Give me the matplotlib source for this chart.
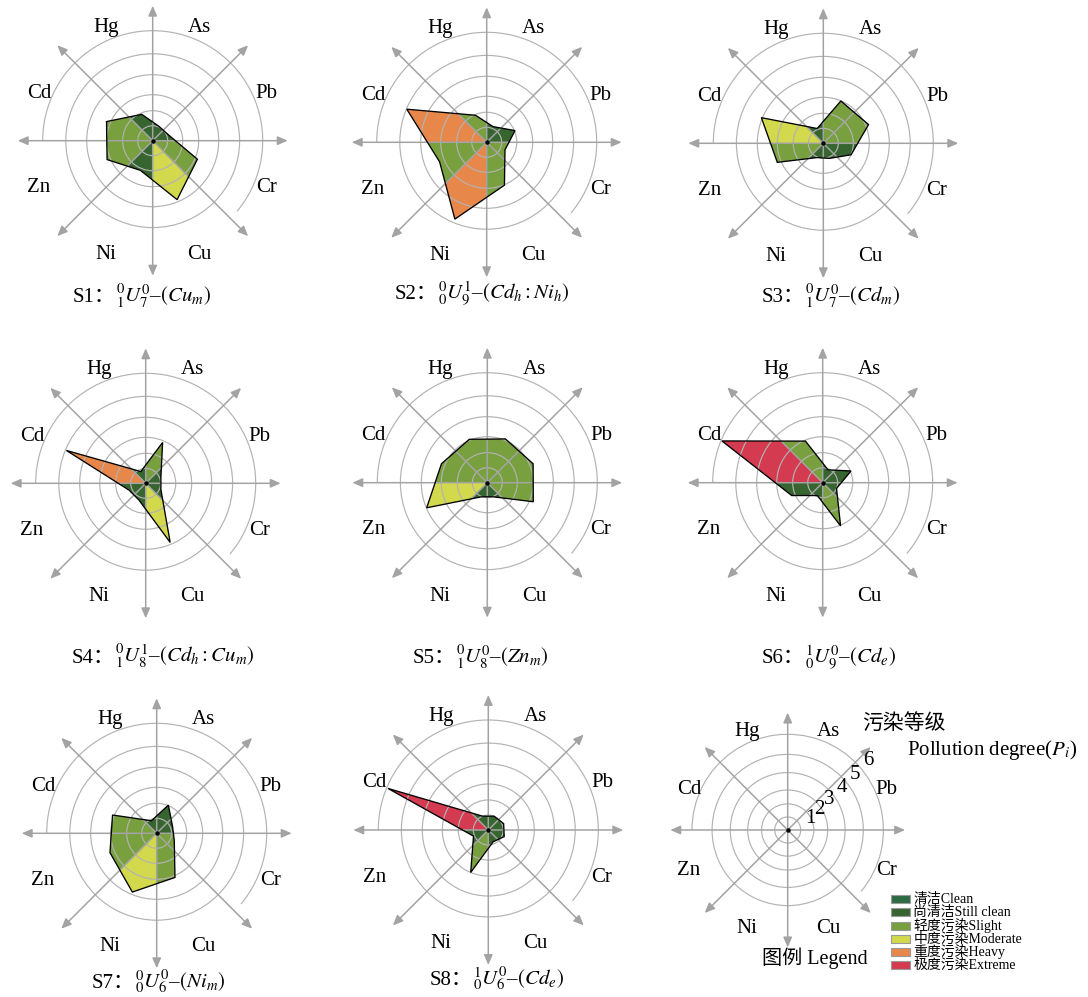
import numpy as np
import matplotlib.pyplot as plt
from matplotlib.patches import Circle, Arc, Wedge, Polygon, Rectangle, FancyArrowPatch

W, H = 1088, 997
plt.rcParams['mathtext.fontset'] = 'stix'
serif = ['Liberation Serif', 'Noto Sans CJK SC']

# elements, counter-clockwise from 22.5 deg
elements = ['Pb', 'As', 'Hg', 'Cd', 'Zn', 'Ni', 'Cu', 'Cr']

grade_names = ['清洁Clean', '尚清洁Still clean', '轻度污染Slight',
               '中度污染Moderate', '重度污染Heavy', '极度污染Extreme']
grade_colors = ['#2e6b45', '#37652f', '#78a03e', '#d2d94c', '#e8874a', '#d43a50']

# pollution degree (ring units 0-6) and grade (1-6) per element
s1_val = [1.10, 1.05, 1.90, 3.20, 3.17, 2.13, 3.89, 3.12]
s1_grd = [2, 2, 2, 3, 3, 2, 4, 3]
s2_val = [2.04, 1.13, 1.95, 4.98, 3.25, 4.82, 3.02, 1.32]
s2_grd = [2, 2, 3, 5, 3, 5, 3, 3]
s3_val = [3.15, 2.99, 1.07, 4.05, 3.19, 1.03, 1.09, 2.00]
s3_grd = [3, 3, 2, 4, 3, 2, 2, 2]
s4_val = [1.10, 2.89, 0.85, 4.95, 1.20, 1.20, 3.90, 1.10]
s4_grd = [2, 3, 2, 5, 2, 2, 4, 2]
s5_val = [3.18, 3.07, 3.05, 3.18, 3.98, 1.02, 1.02, 3.19]
s5_grd = [3, 3, 3, 3, 4, 2, 2, 3]
s6_val = [2.04, 0.93, 2.94, 5.96, 2.22, 0.93, 3.04, 1.00]
s6_grd = [2, 2, 3, 6, 2, 2, 3, 2]
s7_val = [1.15, 2.03, 0.91, 3.09, 3.23, 3.88, 3.09, 1.27]
s7_grd = [2, 2, 2, 3, 3, 4, 3, 3]
s8_val = [1.11, 1.00, 1.00, 5.94, 1.07, 3.00, 0.85, 1.15]
s8_grd = [2, 2, 2, 6, 2, 3, 2, 2]

title_ids = ['S1：', 'S2：', 'S3：', 'S4：', 'S5：', 'S6：', 'S7：', 'S8：']
title_codes = [r'${}^{0}_{1}U^{0}_{7}$–$(Cu_{m})$',
               r'${}^{0}_{0}U^{1}_{9}$–$(Cd_{h}{:}Ni_{h})$',
               r'${}^{0}_{1}U^{0}_{7}$–$(Cd_{m})$',
               r'${}^{0}_{1}U^{1}_{8}$–$(Cd_{h}{:}Cu_{m})$',
               r'${}^{0}_{1}U^{0}_{8}$–$(Zn_{m})$',
               r'${}^{1}_{0}U^{0}_{9}$–$(Cd_{e})$',
               r'${}^{0}_{0}U^{0}_{6}$–$(Ni_{m})$',
               r'${}^{1}_{0}U^{0}_{6}$–$(Cd_{e})$']
degree_ticks = ['1', '2', '3', '4', '5', '6']

# ring radii as fraction of outer ring
ring_frac = [0, 0.136, 0.273, 0.418, 0.60, 0.79, 1.0]
ring_c = '#b3b3b3'
axis_c = '#a3a3a3'
angles = np.deg2rad(22.5 + 45 * np.arange(8))

fig = plt.figure(figsize=(W / 100, H / 100), dpi=100)
renderer = fig.canvas.get_renderer()


def fx(x):
    return x / W


def fy(y):
    return 1 - y / H


def panel(cx, cy, vals=None, grades=None, scale=1.0):
    ax = fig.add_axes([fx(cx - 150), fy(cy + 150), 300 / W, 300 / H])
    ax.set_xlim(-150, 150)
    ax.set_ylim(-150, 150)
    ax.axis('off')
    R = 110 * scale
    if vals is not None:
        r = np.interp(vals, np.arange(7), ring_frac) * R
        pts = np.c_[r * np.cos(angles), r * np.sin(angles)]
        for k in range(8):
            poly = Polygon(pts, closed=True, fc=grade_colors[grades[k] - 1],
                           ec='none', zorder=1)
            ax.add_patch(poly)
            wd = Wedge((0, 0), 2 * R, 45 * k, 45 * (k + 1), transform=ax.transData)
            poly.set_clip_path(wd)
        ax.add_patch(Polygon(pts, closed=True, fill=False, ec='k', lw=0.95, zorder=4))
    for f in ring_frac[1:6]:
        ax.add_patch(Circle((0, 0), f * R, fill=False, ec=ring_c, lw=0.85, zorder=2))
    ax.add_patch(Arc((0, 0), 2 * R, 2 * R, theta1=-40, theta2=180,
                     ec=ring_c, lw=0.85, zorder=2))
    L = 135 * scale
    for a in np.deg2rad([0, 45, 90, 135]):
        ax.add_patch(FancyArrowPatch((-L * np.cos(a), -L * np.sin(a)),
                                     (L * np.cos(a), L * np.sin(a)),
                                     arrowstyle='<|-|>,head_length=6,head_width=2.6',
                                     mutation_scale=1, color=axis_c, lw=1.1,
                                     shrinkA=0, shrinkB=0, zorder=3))
    ax.plot(0, 0, 'o', color='k', ms=2.2, zorder=5)
    for name, a in zip(elements, angles):
        ax.text(123 * scale * np.cos(a), 123 * scale * np.sin(a), name,
                ha='center', va='center', fontsize=15, family=serif)
    return ax


centers = [(152.7, 140.7), (486.7, 142.3), (823.3, 143.3),
           (145.7, 483.3), (487.3, 482.7), (822.7, 482.7),
           (156.7, 833.3), (488.3, 830.0)]
vals = [s1_val, s2_val, s3_val, s4_val, s5_val, s6_val, s7_val, s8_val]
grds = [s1_grd, s2_grd, s3_grd, s4_grd, s5_grd, s6_grd, s7_grd, s8_grd]
title_pos = [(73, 302), (395, 299), (762, 302),
             (72, 663), (413, 663), (762, 663),
             (92, 988), (430, 985)]

for c, v, g, tid, tc, tp in zip(centers, vals, grds, title_ids, title_codes, title_pos):
    panel(c[0], c[1], v, g)
    t1 = fig.text(fx(tp[0]), fy(tp[1]), tid, ha='left', va='baseline',
                  fontsize=15, family=serif)
    bb = t1.get_window_extent(renderer)
    fig.text(bb.x1 / W, fy(tp[1]), tc, ha='left', va='baseline', fontsize=15,
             family=serif)

# legend panel
sc = 0.87
lg = panel(787.7, 830, scale=sc)
Rl = 110 * sc
c45 = np.cos(np.pi / 4)
for k, lab in enumerate(degree_ticks):
    d = ring_frac[k + 1] * Rl + 11
    lg.text(d * c45 + 8 * c45, d * c45 - 8 * c45, lab, ha='center', va='center',
            fontsize=15, family=serif)

fig.text(fx(904), fy(723), '污染等级', ha='center', va='center', fontsize=15,
         family=['Noto Sans CJK SC'])
fig.text(fx(992), fy(750), r'Pollution degree($P_i$)', ha='center', va='center',
         fontsize=15, family=serif)
fig.text(fx(815), fy(958), '图例 Legend', ha='center', va='center', fontsize=14.5,
         family=serif)

row_y = [899.3, 912.3, 925.7, 939, 951.5, 965]
for name, col, y in zip(grade_names, grade_colors, row_y):
    fig.patches.append(Rectangle((fx(890.7), fy(y + 4)), 19.5 / W, 8 / H,
                                 transform=fig.transFigure, fc=col, ec='#9a9a9a',
                                 lw=0.8))
    fig.text(fx(913.3), fy(y), name, ha='left', va='center', fontsize=10,
             family=serif)

fig.savefig('out.png', dpi=100)
